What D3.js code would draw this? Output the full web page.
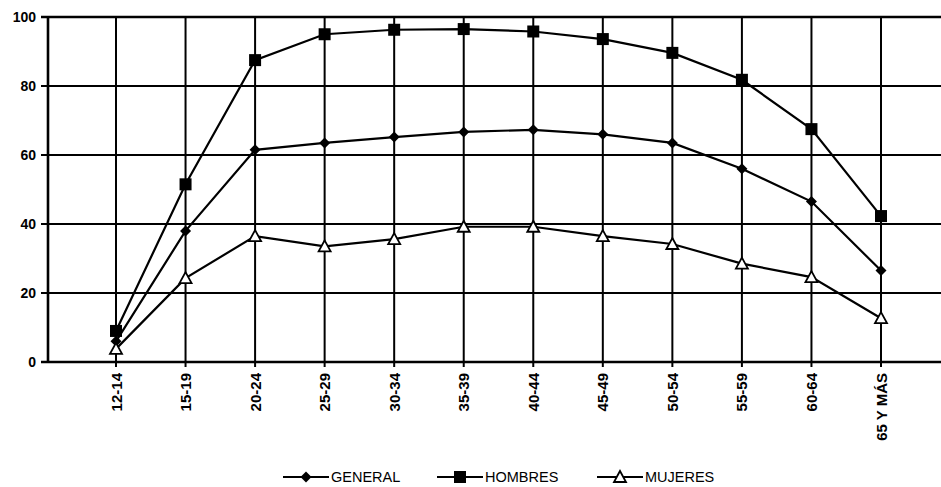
<!DOCTYPE html>
<html><head><meta charset="utf-8">
<script src="https://cdn.jsdelivr.net/npm/d3@7/dist/d3.min.js"></script>
<style>
html,body{margin:0;padding:0;background:#fff;}
svg{display:block;font-family:Arial,"Liberation Sans",sans-serif;}
</style></head>
<body><svg id="c" width="941" height="487"></svg>
<script>
const categories = ["12-14","15-19","20-24","25-29","30-34","35-39","40-44","45-49","50-54","55-59","60-64","65 Y MÁS"];
const general  = [6, 38, 61.5, 63.5, 65.2, 66.7, 67.3, 66, 63.5, 56, 46.5, 26.5];
const hombres  = [9, 51.5, 87.5, 95, 96.3, 96.5, 95.8, 93.6, 89.6, 81.8, 67.5, 42.3];
const mujeres  = [3.8, 24.3, 36.5, 33.5, 35.6, 39.2, 39.2, 36.5, 34.2, 28.5, 24.6, 12.7];
const yTicks   = [0, 20, 40, 60, 80, 100];
const seriesNames = ["GENERAL","HOMBRES","MUJERES"];

const svg = d3.select("#c");
const pLeft = 48, pRight = 941, pTop = 17, pBottom = 362;
const x = d3.scalePoint().domain(categories).range([116, 881]);
const y = d3.scaleLinear().domain([0,100]).range([pBottom, pTop]);

// horizontal grid
svg.append("g").selectAll("line").data(yTicks).join("line")
  .attr("x1", pLeft-7).attr("x2", pRight)
  .attr("y1", d=>y(d)).attr("y2", d=>y(d))
  .attr("stroke","#000").attr("stroke-width", d=> d===0||d===100 ? 2.4 : 2);
// vertical grid
svg.append("g").selectAll("line").data(categories).join("line")
  .attr("x1", d=>x(d)).attr("x2", d=>x(d))
  .attr("y1", pTop).attr("y2", pBottom+5)
  .attr("stroke","#000").attr("stroke-width",2);
// y axis line
svg.append("line").attr("x1",pLeft).attr("x2",pLeft).attr("y1",pTop).attr("y2",pBottom)
  .attr("stroke","#000").attr("stroke-width",2.6);

// y tick labels
svg.append("g").selectAll("text").data(yTicks).join("text")
  .attr("x", 36).attr("y", d=>y(d)+5)
  .attr("text-anchor","end").attr("font-size",14).attr("font-weight","bold")
  .text(d=>d);
// x tick labels rotated
svg.append("g").selectAll("text").data(categories).join("text")
  .attr("transform", d=>`translate(${x(d)+5.5},${pBottom+11}) rotate(-90)`)
  .attr("text-anchor","end").attr("font-size",15).attr("font-weight","bold")
  .text(d=>d);

const line = d3.line().x((d,i)=>x(categories[i])).y(d=>y(d));
const data = [general, hombres, mujeres];
data.forEach(s=>{
  svg.append("path").datum(s).attr("d",line).attr("fill","none")
    .attr("stroke","#000").attr("stroke-width",2.2);
});

function marker(g, kind, cx, cy){
  if(kind===0){
    g.append("path").attr("d",`M${cx},${cy-5.5}L${cx+5.5},${cy}L${cx},${cy+5.5}L${cx-5.5},${cy}Z`).attr("fill","#000");
  } else if(kind===1){
    g.append("rect").attr("x",cx-6).attr("y",cy-6).attr("width",12).attr("height",12).attr("fill","#000");
  } else {
    g.append("path").attr("d",`M${cx},${cy-6}L${cx+6},${cy+5}L${cx-6},${cy+5}Z`)
      .attr("fill","#fff").attr("stroke","#000").attr("stroke-width",1.8);
  }
}
const mg = svg.append("g");
data.forEach((s,k)=>{
  s.forEach((v,i)=>marker(mg,k,x(categories[i]),y(v)));
});

// legend
const legX = [283, 437, 597];
const legY = 477;
const lg = svg.append("g");
seriesNames.forEach((n,k)=>{
  lg.append("line").attr("x1",legX[k]).attr("x2",legX[k]+46).attr("y1",legY).attr("y2",legY)
    .attr("stroke","#000").attr("stroke-width",2.2);
  marker(lg,k,legX[k]+23,legY);
  lg.append("text").attr("x",legX[k]+48).attr("y",legY+5).attr("font-size",14.5).text(n);
});
</script></body></html>
